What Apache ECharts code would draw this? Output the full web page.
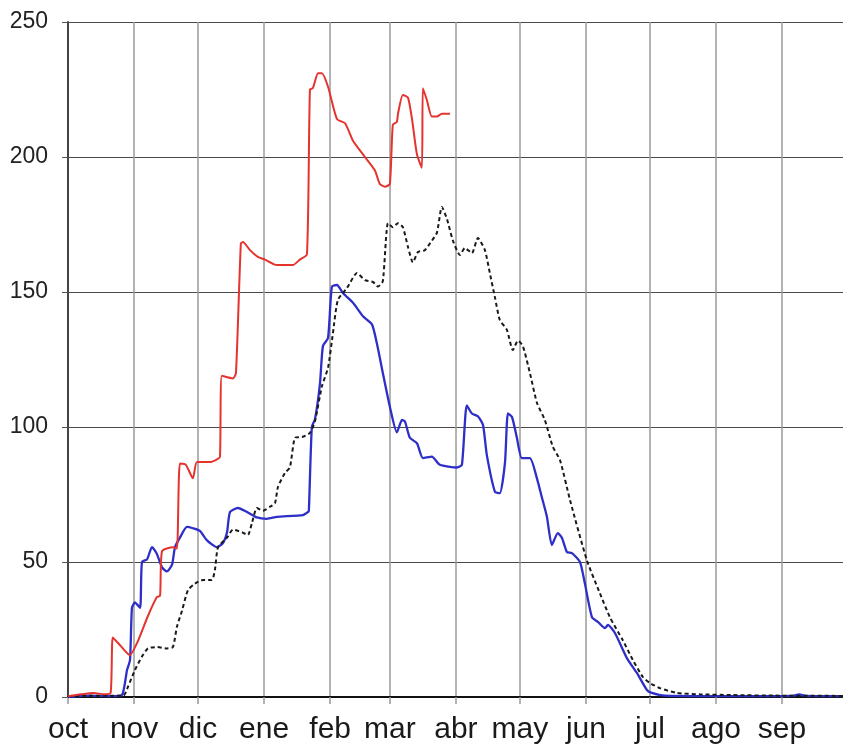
<!DOCTYPE html>
<html>
<head>
<meta charset="utf-8">
<script src="https://cdn.jsdelivr.net/npm/echarts@6/dist/echarts.min.js"></script>
<style>
  html, body { margin: 0; padding: 0; background: #fff; }
  #chart { width: 843px; height: 751px; }
</style>
</head>
<body>
<div id="chart"></div>
<script>
// meses (año hidrológico oct-sep) y día de inicio de cada uno
var months = ['oct', 'nov', 'dic', 'ene', 'feb', 'mar', 'abr', 'may', 'jun', 'jul', 'ago', 'sep'];
var monthStarts = [0, 31, 61, 92, 123, 151, 182, 212, 243, 273, 304, 335];
var yTicks = [0, 50, 100, 150, 200, 250];

// [día, valor]
var redLine = [
    [0, 0.3], [6, 1], [12, 1.5], [17, 1], [20, 1.5], [21, 22], [23.5, 20], [29, 15.5],
    [32.4, 20], [37.5, 30], [41.7, 37], [43.2, 37.5], [44.1, 54], [49.2, 55.5], [51.1, 55],
    [52.5, 86.5], [55.3, 86], [58.6, 81], [60.5, 87], [66.6, 87], [69.9, 88], [71.3, 89],
    [72.2, 119], [77.4, 118], [78.8, 120], [81.1, 168], [82.1, 168.5], [85.4, 165.5],
    [89.1, 163], [92.4, 162], [98, 160], [105.5, 160], [108.8, 162], [112.1, 164],
    [113.5, 225], [114.9, 225.5], [117.3, 231], [119.1, 231], [122, 226], [126.2, 214],
    [130, 212.5], [133.7, 206], [139.3, 200], [144, 195], [146.3, 190], [148.7, 189],
    [151, 190], [152.4, 212], [154.3, 213], [154.8, 216], [157.1, 223], [159.5, 222],
    [161.4, 214], [163.7, 201], [166, 196], [166.5, 225.5], [168.4, 221], [170.7, 215],
    [173.1, 215], [175.4, 216], [179.2, 216]
];
var blueLine = [
    [0, 0], [10, 0.5], [20, 0.3], [25.3, 0.7], [27.7, 10], [29.1, 13.7], [30, 33], [31.4, 35],
    [33.8, 33], [34.7, 50], [37.1, 51], [39.4, 55.5], [41.7, 53], [44.1, 48], [46.4, 46.5],
    [48.8, 49], [50.2, 55.5], [52.5, 59], [55.8, 63], [58.6, 62.5], [61.9, 61.5], [65.2, 58],
    [69.9, 55.5], [72.7, 57], [74.6, 61], [76, 68.5], [79.7, 70], [84, 68.5], [88.6, 66.5],
    [93.3, 66], [98, 66.7], [110.2, 67.4], [112.6, 68.5], [113, 69], [114.4, 100], [115.9, 103],
    [118.2, 116], [119.6, 130], [122, 133], [123.8, 152], [126.2, 152.6], [129, 149.6],
    [133.7, 146], [138.4, 141], [142.6, 138], [144.9, 131], [147.7, 120], [151, 107.5],
    [154.3, 98], [156.7, 102.6], [158.1, 102], [160.4, 96], [163.7, 94], [166.5, 88.5],
    [170.7, 89], [174.5, 86], [182.5, 85], [184.8, 86], [187.1, 108], [189.5, 105],
    [192.3, 104], [194.7, 100.7], [196.5, 89.6], [200.3, 76], [202.6, 75.5], [205, 86.7],
    [206.4, 105], [208.3, 103.7], [210.6, 96], [212.9, 88.5], [216.7, 88.5], [220, 81],
    [222.3, 74], [224.7, 66.7], [227, 56.3], [229.8, 60.7], [231.7, 59], [234.1, 53.7],
    [236.4, 53.3], [240.2, 50], [242.5, 42], [245.8, 29.6], [248.6, 27.8], [251.9, 25.5],
    [253.3, 26.7], [256.6, 23.7], [262.2, 14.4], [266.9, 8.9], [271.6, 2.6], [273.9, 1.5],
    [280, 0.5], [320, 0.3], [340, 0.4], [343, 1], [346, 0.4], [365, 0.3]
];
var blackLine = [
    [0, 0.2], [10, 0.5], [20, 0.5], [26, 0.5], [28.1, 3.7], [31.4, 10], [34.7, 15], [37.5, 18],
    [41.7, 18.5], [46.4, 18], [49.2, 18.5], [51.1, 26], [53.5, 32], [56.3, 39.6], [59.6, 42],
    [63.3, 43.3], [67.5, 43.3], [68.9, 47], [70.4, 55.5], [74.6, 59], [77.4, 62], [81.6, 61],
    [84.4, 60], [86.3, 64.4], [88.6, 70], [91.5, 69], [94.7, 70.4], [97.1, 71.8], [98.5, 77.8],
    [101.8, 83], [104.1, 85], [106.5, 96], [109.8, 96.3], [113.5, 97.8], [115.9, 102.3],
    [119.1, 115], [122, 122], [124.3, 134.8], [126.6, 147], [130.9, 151.5], [135.6, 157],
    [139.3, 154.4], [143.1, 153.7], [145.4, 152], [147.7, 154], [150.1, 175.5], [152.4, 174],
    [154.8, 175.5], [157.1, 174], [159.5, 166.7], [161.8, 161], [164.2, 164.8], [167.4, 165.5],
    [170.7, 169], [173.1, 172], [175.4, 181.5], [177.8, 177], [180.6, 169], [183.9, 163.7],
    [186.2, 166.3], [189.5, 164.4], [192.3, 170], [195.6, 165.5], [197.9, 157], [200.3, 148],
    [202.6, 139.6], [205.9, 136], [208.7, 128.5], [211.1, 132], [213.4, 130], [216.7, 120],
    [220, 109], [223.7, 102.6], [227.5, 92.6], [230.8, 87.8], [235.5, 73], [243.4, 50.7],
    [249.5, 38.5], [254.2, 29.6], [260.3, 21], [265, 13.7], [269.7, 7.4], [273, 5.2],
    [277.7, 3.3], [285.6, 1.5], [296.4, 1], [311.9, 0.7], [334, 0.5], [365, 0.4]
];

var chart = echarts.init(document.getElementById('chart'));
chart.setOption({
    animation: false,
    grid: {
        left: 68,
        right: -3,
        top: 22,
        bottom: 54,
        outerBoundsMode: 'none'
    },
    xAxis: {
        type: 'value',
        min: 0,
        max: 365,
        axisLine: { lineStyle: { color: '#111', width: 2 } },
        axisTick: {
            customValues: monthStarts,
            length: 7,
            lineStyle: { color: '#999', width: 1.5 }
        },
        axisLabel: {
            customValues: monthStarts,
            formatter: function (v) {
                return months[monthStarts.indexOf(v)];
            },
            fontFamily: 'Liberation Sans, Arial, sans-serif',
            fontSize: 30,
            color: '#1a1a1a',
            margin: 18
        },
        splitLine: {
            show: true,
            lineStyle: { color: '#9a9a9a', width: 1.5 }
        }
    },
    yAxis: {
        type: 'value',
        min: yTicks[0],
        max: yTicks[yTicks.length - 1],
        interval: 50,
        axisLine: { show: true, lineStyle: { color: '#444', width: 2 } },
        axisTick: { show: true, length: 6, lineStyle: { color: '#555' } },
        axisLabel: {
            fontFamily: 'Liberation Sans, Arial, sans-serif',
            fontSize: 23,
            color: '#222',
            margin: 20
        },
        splitLine: { lineStyle: { color: '#4a4a4a', width: 1.2 } }
    },
    series: [{
        name: 'azul',
        type: 'line',
        data: blueLine,
        showSymbol: false,
        smooth: 0.2,
        lineStyle: { color: '#2e2ec8', width: 2.3 }
    }, {
        name: 'mediana',
        type: 'line',
        data: blackLine,
        showSymbol: false,
        smooth: 0.2,
        lineStyle: { color: '#1a1a1a', width: 2, type: [4, 3] }
    }, {
        name: 'rojo',
        type: 'line',
        data: redLine,
        showSymbol: false,
        smooth: 0.2,
        lineStyle: { color: '#e5332e', width: 2 }
    }]
});
</script>
</body>
</html>
